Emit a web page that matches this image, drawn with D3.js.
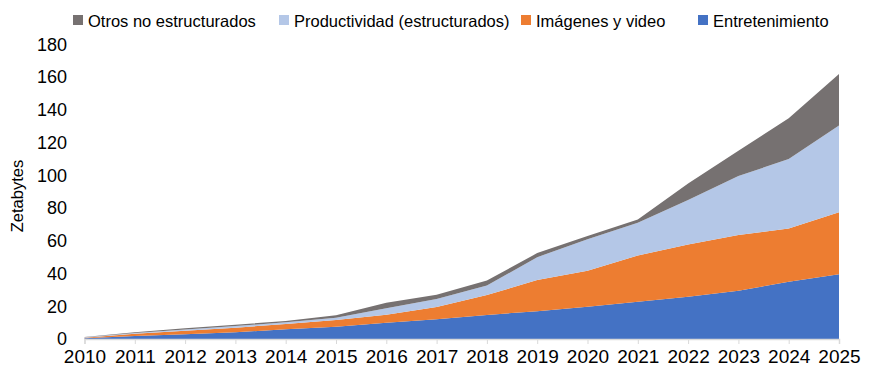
<!DOCTYPE html>
<html><head><meta charset="utf-8">
<script src="https://cdn.jsdelivr.net/npm/d3@7"></script>
<style>body{margin:0;background:#fff}svg{display:block}</style>
</head><body><svg id="c" width="876" height="386"></svg>
<script>
const years = [2010,2011,2012,2013,2014,2015,2016,2017,2018,2019,2020,2021,2022,2023,2024,2025];
const entretenimiento = [0.5,1.8,2.9,4.1,5.9,7.5,10,12,14.7,17,19.7,22.8,25.8,29.5,35,39.5];
const imagenes = [0.3,1.4,2.2,2.8,3.3,4.1,4.8,7.6,12.2,19,22,28.2,32,34,32.6,38];
const productividad = [0.2,0.4,0.7,1.0,1.0,1.4,4.0,4.9,5.8,14,19.3,20,27.2,36.1,42.4,53];
const otros = [0.2,0.5,0.7,0.8,0.8,1.5,3.4,2.5,3.0,2.5,2.0,2.0,10,15.4,25,31.5];
const yTicks = [0,20,40,60,80,100,120,140,160,180];
const seriesNames = ["Entretenimiento","Imágenes y video","Productividad (estructurados)","Otros no estructurados"];
const seriesColors = ["#4472C4","#ED7D31","#B4C7E7","#767171"];
const legendOrder = ["Otros no estructurados","Productividad (estructurados)","Imágenes y video","Entretenimiento"];

const FONT = "'Liberation Sans', Arial, sans-serif";
const svg = d3.select("#c");
const x = d3.scaleLinear().domain([2010,2025]).range([84.5,839]);
const y = d3.scaleLinear().domain([0,180]).range([339,44.5]);

const rows = years.map((yr,i)=>({year:yr, s0:entretenimiento[i], s1:imagenes[i], s2:productividad[i], s3:otros[i]}));
const stack = d3.stack().keys(["s0","s1","s2","s3"]);
const layers = stack(rows);
const area = d3.area().x(d=>x(d.data.year)).y0(d=>y(d[0])).y1(d=>y(d[1]));

svg.append("g").selectAll("path").data(layers).join("path")
  .attr("d", area).attr("fill",(d,i)=>seriesColors[i]);

// x axis
const xAxis = d3.axisBottom(x).tickValues(years).tickFormat(d3.format("d")).tickSize(5).tickPadding(6);
const gx = svg.append("g").attr("transform","translate(0,339)").call(xAxis);
gx.select(".domain").attr("stroke","#d9d9d9").attr("stroke-width",1.5);
gx.selectAll(".tick line").attr("stroke","#d9d9d9");
gx.selectAll("text").attr("font-family",FONT).attr("font-size",19).attr("fill","#000");

// y axis labels
const gy = svg.append("g").attr("transform","translate(67,0)").call(d3.axisLeft(y).tickValues(yTicks).tickSize(0).tickPadding(0));
gy.select(".domain").remove();
gy.selectAll("text").attr("font-family",FONT).attr("font-size",18).attr("fill","#000");

svg.append("text").attr("transform","translate(23,196) rotate(-90)")
  .attr("text-anchor","middle").attr("font-family",FONT).attr("font-size",16.5).text("Zetabytes");

// legend
const legX = [73, 279, 521, 698];
const lg = svg.append("g");
legendOrder.forEach((name,i)=>{
  const ci = seriesNames.indexOf(name);
  const g = lg.append("g").attr("transform",`translate(${legX[i]},0)`);
  g.append("rect").attr("x",0).attr("y",15).attr("width",10).attr("height",10).attr("fill",seriesColors[ci]);
  g.append("text").attr("x",15).attr("y",26.5).attr("font-family",FONT).attr("font-size",16.5).text(name);
});
</script></body></html>
